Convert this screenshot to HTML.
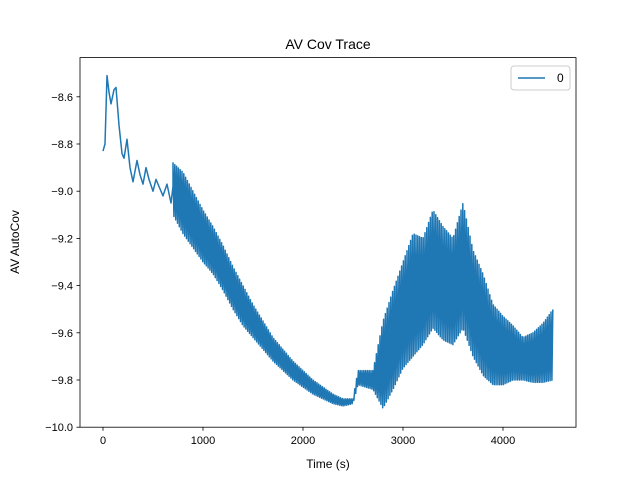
<!DOCTYPE html>
<html><head><meta charset="utf-8"><style>
body{margin:0;background:#fff}
svg{display:block;font-family:"Liberation Sans","DejaVu Sans",sans-serif}
</style></head><body>
<svg id="chart" width="640" height="480" viewBox="0 0 640 480">
<rect width="640" height="480" fill="#fff"/>
<text x="328" y="49" text-anchor="middle" font-size="14">AV Cov Trace</text>
<g id="plot"></g>
<g id="axes"></g>
<text x="328" y="468" text-anchor="middle" font-size="12">Time (s)</text>
<text transform="translate(19,242) rotate(-90)" text-anchor="middle" font-size="12">AV AutoCov</text>
<g>
<rect x="511" y="66" width="59" height="24" rx="3" fill="#fff" stroke="#ccc"/>
<line x1="518" y1="78" x2="545" y2="78" stroke="#1f77b4" stroke-width="1.5"/>
<text x="557" y="82" font-size="12">0</text>
</g>
</svg>
<script>
const smoothT=[0,20,40,60,80,110,130,160,190,210,240,270,300,340,370,400,430,460,500,530,560,600,640,680,700];
const smoothV=[-8.83,-8.80,-8.51,-8.58,-8.63,-8.57,-8.56,-8.72,-8.84,-8.86,-8.78,-8.90,-8.96,-8.87,-8.93,-8.97,-8.90,-8.95,-9.00,-8.95,-8.98,-9.02,-8.97,-9.05,-8.98];
const envT=[700,800,900,1000,1100,1200,1300,1400,1500,1600,1700,1800,1900,2000,2100,2200,2300,2400,2500,2550,2700,2800,2900,3000,3100,3200,3300,3400,3500,3600,3700,3800,3900,4000,4100,4200,4300,4400,4500];
const envUpper=[-8.88,-8.92,-9.00,-9.08,-9.15,-9.23,-9.32,-9.40,-9.48,-9.55,-9.62,-9.67,-9.72,-9.76,-9.80,-9.83,-9.86,-9.88,-9.88,-9.76,-9.76,-9.55,-9.42,-9.30,-9.18,-9.20,-9.08,-9.15,-9.20,-9.05,-9.25,-9.35,-9.48,-9.53,-9.57,-9.62,-9.60,-9.56,-9.50];
const envLower=[-9.10,-9.18,-9.24,-9.30,-9.35,-9.42,-9.50,-9.57,-9.62,-9.67,-9.72,-9.76,-9.80,-9.83,-9.86,-9.88,-9.90,-9.91,-9.90,-9.82,-9.84,-9.92,-9.84,-9.75,-9.70,-9.65,-9.58,-9.63,-9.65,-9.58,-9.70,-9.78,-9.82,-9.82,-9.80,-9.80,-9.81,-9.81,-9.80];
const xTicks=[0,1000,2000,3000,4000];
const yTicks=[-10.0,-9.8,-9.6,-9.4,-9.2,-9.0,-8.8,-8.6];

const L=80,R=576,T=57.6,B=427.2;
const xMin=-230,xMax=4730,yMin=-10,yMax=-8.4339;
const xs=t=>L+(t-xMin)/(xMax-xMin)*(R-L);
const ys=v=>B-(v-yMin)/(yMax-yMin)*(B-T);
const NS="http://www.w3.org/2000/svg";
const plot=document.getElementById('plot'),axes=document.getElementById('axes');
function mk(tag,attrs,parent){const e=document.createElementNS(NS,tag);for(const k in attrs)e.setAttribute(k,attrs[k]);parent.appendChild(e);return e;}
function interp(arr,t){for(let i=0;i<envT.length-1;i++){if(t<=envT[i+1]){const f=(t-envT[i])/(envT[i+1]-envT[i]);return arr[i]+f*(arr[i+1]-arr[i]);}}return arr[arr.length-1];}

let pts=[];
for(let i=0;i<smoothT.length;i++)pts.push([xs(smoothT[i]),ys(smoothV[i])]);
let k=0;
for(let t=envT[0];t<=envT[envT.length-1];t+=9,k++){
  const v=(k%2===0)?interp(envUpper,t):interp(envLower,t);
  pts.push([xs(t),ys(v)]);
}
const line=mk('polyline',{points:pts.map(p=>p[0].toFixed(1)+','+p[1].toFixed(1)).join(' '),fill:'none',stroke:'#1f77b4','stroke-width':1.5,'stroke-linejoin':'round'},plot);



const frame=mk('rect',{x:L,y:T,width:R-L,height:B-T,fill:'none',stroke:'#000','stroke-width':0.8},axes);


xTicks.forEach(t=>{
  const x=xs(t);
  const tk=mk('line',{x1:x,y1:B,x2:x,y2:B+3.5,stroke:'#000','stroke-width':0.8},axes);
  
  
  const lb=mk('text',{x:x,y:B+17,'text-anchor':'middle','font-size':11},axes);
  lb.textContent=t;
  
  
});
yTicks.forEach(v=>{
  const y=ys(v);
  const tk=mk('line',{x1:L-3.5,y1:y,x2:L,y2:y,stroke:'#000','stroke-width':0.8},axes);
  
  
  const lb=mk('text',{x:L-7,y:y+4,'text-anchor':'end','font-size':11},axes);
  lb.textContent=(v<0?'\u2212':'')+Math.abs(v).toFixed(1);
  
  
});
</script>
</body></html>
